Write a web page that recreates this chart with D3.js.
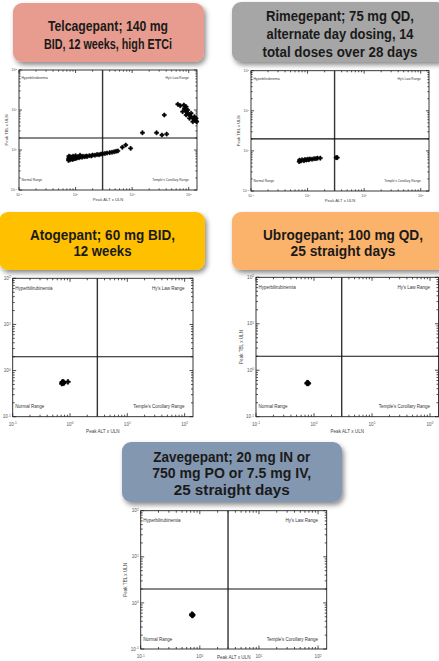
<!DOCTYPE html>
<html>
<head>
<meta charset="utf-8">
<script src="https://cdn.jsdelivr.net/npm/d3@7"></script>
<style>
  body { margin: 0; background: #fff; }
  svg { display: block; }
</style>
</head>
<body>
<div id="chart"></div>
<script>
// ---- data ----
var tickVals = [0.1, 1, 10, 100];
var tickExps = ["-1", "0", "1", "2"];
var quadrantNames = ["Hyperbilirubinemia", "Hy's Law Range", "Normal Range", "Temple's Corollary Range"];
var altCut = 3;   // x ULN
var tblCut = 2;   // x ULN

var telcaTitle = ["Telcagepant; 140 mg", "BID, 12 weeks, high ETCi"];
var rimeTitle = ["Rimegepant; 75 mg QD,", "alternate day dosing, 14", "total doses over 28 days"];
var atoTitle = ["Atogepant; 60 mg BID,", "12 weeks"];
var ubroTitle = ["Ubrogepant; 100 mg QD,", "25 straight days"];
var zaveTitle = ["Zavegepant; 20 mg IN or", "750 mg PO or 7.5 mg IV,", "25 straight days"];

var telcaALT = [0.75, 0.75, 0.77, 0.8, 0.82, 0.85, 0.88, 0.9, 0.93, 0.95, 1.0, 1.0, 1.05, 1.1, 1.15, 1.2,
  1.3, 1.35, 1.45, 1.55, 1.6, 1.75, 1.9, 2.0, 2.2, 2.4, 2.6, 2.8, 3.0, 3.3, 3.6, 4.0, 4.4, 4.8, 5.2, 5.6,
  0.76, 0.8, 0.9, 1.0, 1.2, 6.7, 7.7, 9.4,
  15.2, 27, 33.6, 40.7, 37,
  64, 71, 82, 90, 86, 78, 90, 96, 103, 90, 110, 118, 126, 135, 138, 118, 103, 126, 96, 84, 110, 135];
var telcaTBL = [0.55, 0.6, 0.64, 0.57, 0.62, 0.66, 0.58, 0.63, 0.6, 0.67, 0.61, 0.65, 0.63, 0.68, 0.64, 0.67,
  0.66, 0.7, 0.68, 0.71, 0.69, 0.72, 0.71, 0.75, 0.74, 0.77, 0.76, 0.79, 0.8, 0.82, 0.84, 0.86, 0.88, 0.9, 0.93, 0.95,
  0.7, 0.68, 0.7, 0.72, 0.74, 1.17, 1.33, 1.1,
  2.7, 2.7, 2.37, 2.5, 7.5,
  13.9, 12.8, 13.3, 12.1, 10.4, 9.1, 9.1, 8.3, 7.5, 7.5, 6.8, 6.2, 5.6, 5.3, 5.1, 5.1, 6.2, 6.8, 10, 11, 8.3, 6.2];

var rimeALT = [0.71, 0.72, 0.76, 0.8, 0.86, 0.9, 0.95, 1.0, 1.05, 1.1, 1.2, 1.3, 1.4, 1.5, 1.68, 3.2, 3.35];
var rimeTBL = [0.54, 0.59, 0.56, 0.6, 0.57, 0.61, 0.59, 0.62, 0.6, 0.63, 0.62, 0.64, 0.64, 0.66, 0.66, 0.68, 0.68];

var atoALT = [0.72, 0.74, 0.77, 0.76, 0.73, 0.78, 0.92];
var atoTBL = [0.52, 0.55, 0.53, 0.57, 0.56, 0.55, 0.57];

var ubroALT = [0.76, 0.78, 0.8, 0.77];
var ubroTBL = [0.52, 0.53, 0.52, 0.54];

var zaveALT = [0.73, 0.75, 0.74, 0.76];
var zaveTBL = [0.55, 0.53, 0.57, 0.55];

// ---- layout ----
var W = 439, H = 661;
var xMax = 140;

var panels = [
  { title: telcaTitle, alt: telcaALT, tbl: telcaTBL, color: "#E79C8F",
    box: { x: 13, y: 3, w: 191, h: 59 }, cx: 108, lineY: [26, 43.5], fs: 14.5, lw: [120, 128],
    plot: { l: 19, t: 70, r: 197, b: 190 }, small: true, yTitle: true },
  { title: rimeTitle, alt: rimeALT, tbl: rimeTBL, color: "#A6A6A6",
    box: { x: 232, y: 2, w: 214, h: 60 }, cx: 340, lineY: [15.7, 33.5, 51.5], fs: 14.5, lw: [148, 147, 155],
    plot: { l: 251, t: 70.7, r: 429, b: 191 }, small: true, yTitle: true },
  { title: atoTitle, alt: atoALT, tbl: atoTBL, color: "#FFC000",
    box: { x: -1, y: 212, w: 206, h: 58 }, cx: 102.5, lineY: [235, 251], fs: 14.5, lw: [145, 58],
    plot: { l: 12.7, t: 278.3, r: 193, b: 416.7 }, small: false, yTitle: false },
  { title: ubroTitle, alt: ubroALT, tbl: ubroTBL, color: "#FBB26B",
    box: { x: 232, y: 212, w: 214, h: 58 }, cx: 343, lineY: [235, 251], fs: 14.5, lw: [160, 105],
    plot: { l: 256, t: 277.3, r: 438.5, b: 416.7 }, small: false, yTitle: true },
  { title: zaveTitle, alt: zaveALT, tbl: zaveTBL, color: "#8497B0",
    box: { x: 122, y: 442, w: 220, h: 60 }, cx: 231.7, lineY: [456.7, 473.3, 490], fs: 14.5, lw: [157, 159, 116],
    plot: { l: 140.7, t: 510.7, r: 326.7, b: 649 }, small: false, yTitle: true }
];

var svg = d3.select("#chart").append("svg")
  .attr("width", W)
  .attr("height", H)
  .style("font-family", "'Liberation Sans', Arial, sans-serif");

var defs = svg.append("defs");
defs.append("filter")
  .attr("id", "shadow")
  .attr("x", "-20%").attr("y", "-30%")
  .attr("width", "140%").attr("height", "170%")
  .append("feDropShadow")
  .attr("dx", 2).attr("dy", 3)
  .attr("stdDeviation", 2.5)
  .attr("flood-color", "#000")
  .attr("flood-opacity", 0.45);

function expLabel(sel, exp) {
  sel.append("tspan").text("10");
  sel.append("tspan").attr("dy", "-0.45em").attr("font-size", "0.7em").text(exp);
}

panels.forEach(function (p) {
  // header box
  var hg = svg.append("g");
  hg.append("rect")
    .attr("x", p.box.x).attr("y", p.box.y)
    .attr("width", p.box.w).attr("height", p.box.h)
    .attr("rx", 9).attr("ry", 9)
    .attr("fill", p.color)
    .attr("filter", "url(#shadow)");
  p.title.forEach(function (line, i) {
    hg.append("text")
      .attr("x", p.cx)
      .attr("y", p.lineY[i])
      .attr("dy", "0.35em")
      .attr("text-anchor", "middle")
      .attr("font-weight", "bold")
      .attr("font-size", p.fs)
      .attr("textLength", p.lw[i])
      .attr("lengthAdjust", "spacingAndGlyphs")
      .attr("fill", "#1a1a1a")
      .text(line);
  });

  // scales
  var x = d3.scaleLog().domain([0.1, xMax]).range([p.plot.l, p.plot.r]);
  var y = d3.scaleLog().domain([0.1, 100]).range([p.plot.b, p.plot.t]);
  var g = svg.append("g");

  var qfs = p.small ? 3.2 : 4.5;
  var tfs = p.small ? 3.6 : 4.6;
  var afs = p.small ? 4.2 : 4.6;
  var minorLen = p.small ? 1.6 : 2;
  var majorLen = p.small ? 3 : 3.5;

  // frame
  g.append("rect")
    .attr("x", p.plot.l).attr("y", p.plot.t)
    .attr("width", p.plot.r - p.plot.l).attr("height", p.plot.b - p.plot.t)
    .attr("fill", "none")
    .attr("stroke", "#222")
    .attr("stroke-width", 0.9);

  // inward ticks on all four sides
  var xt = x.ticks();
  var yt = y.ticks();
  function isMajor(v) { return Math.abs(Math.log10(v) - Math.round(Math.log10(v))) < 1e-6; }
  g.selectAll(".xtb").data(xt).enter().append("line")
    .attr("x1", function (d) { return x(d); }).attr("x2", function (d) { return x(d); })
    .attr("y1", p.plot.b).attr("y2", function (d) { return p.plot.b - (isMajor(d) ? majorLen : minorLen); })
    .attr("stroke", "#222").attr("stroke-width", 0.8);
  g.selectAll(".xtt").data(xt).enter().append("line")
    .attr("x1", function (d) { return x(d); }).attr("x2", function (d) { return x(d); })
    .attr("y1", p.plot.t).attr("y2", function (d) { return p.plot.t + (isMajor(d) ? majorLen : minorLen); })
    .attr("stroke", "#222").attr("stroke-width", 0.8);
  g.selectAll(".ytl").data(yt).enter().append("line")
    .attr("y1", function (d) { return y(d); }).attr("y2", function (d) { return y(d); })
    .attr("x1", p.plot.l).attr("x2", function (d) { return p.plot.l + (isMajor(d) ? majorLen : minorLen); })
    .attr("stroke", "#222").attr("stroke-width", 0.8);
  g.selectAll(".ytr").data(yt).enter().append("line")
    .attr("y1", function (d) { return y(d); }).attr("y2", function (d) { return y(d); })
    .attr("x1", p.plot.r).attr("x2", function (d) { return p.plot.r - (isMajor(d) ? majorLen : minorLen); })
    .attr("stroke", "#222").attr("stroke-width", 0.8);

  // tick labels
  tickVals.forEach(function (v, i) {
    var tx = g.append("text")
      .attr("x", x(v)).attr("y", p.plot.b + (p.small ? 5 : 7.5))
      .attr("dy", "0.35em")
      .attr("text-anchor", "middle")
      .attr("font-size", tfs)
      .attr("fill", "#555");
    expLabel(tx, tickExps[i]);
    var ty = g.append("text")
      .attr("x", p.plot.l - 2).attr("y", y(v))
      .attr("dy", "0.35em")
      .attr("text-anchor", "end")
      .attr("font-size", tfs)
      .attr("fill", "#555");
    expLabel(ty, tickExps[i]);
  });

  // axis titles
  g.append("text")
    .attr("x", (p.plot.l + p.plot.r) / 2)
    .attr("y", Math.min(p.plot.b + (p.small ? 9.5 : 15), H - 4))
    .attr("dy", "0.35em")
    .attr("text-anchor", "middle")
    .attr("font-size", afs)
    .attr("fill", "#444")
    .text("Peak ALT x ULN");
  if (p.yTitle) {
    g.append("text")
      .attr("transform", "translate(" + (p.plot.l - (p.small ? 12.5 : 15)) + "," + ((p.plot.t + p.plot.b) / 2) + ") rotate(-90)")
      .attr("dy", "0.35em")
      .attr("text-anchor", "middle")
      .attr("font-size", afs)
      .attr("fill", "#444")
      .text("Peak TBL x ULN");
  }

  // threshold lines
  g.append("line")
    .attr("x1", x(altCut)).attr("x2", x(altCut))
    .attr("y1", p.plot.t).attr("y2", p.plot.b)
    .attr("stroke", "#333").attr("stroke-width", 1.4);
  g.append("line")
    .attr("x1", p.plot.l).attr("x2", p.plot.r)
    .attr("y1", y(tblCut)).attr("y2", y(tblCut))
    .attr("stroke", "#111").attr("stroke-width", 1.1);

  // quadrant labels
  var topY = p.plot.t + (p.small ? 8.3 : 10);
  var botY = p.plot.b - 10;
  var quad = [
    { t: quadrantNames[0], x: p.plot.l + 2.5, y: topY, a: "start" },
    { t: quadrantNames[1], x: x(100), y: topY, a: "end" },
    { t: quadrantNames[2], x: p.plot.l + 2.5, y: botY, a: "start" },
    { t: quadrantNames[3], x: x(100), y: botY, a: "end" }
  ];
  g.selectAll(".quad").data(quad).enter().append("text")
    .attr("x", function (d) { return d.x; })
    .attr("y", function (d) { return d.y; })
    .attr("dy", "0.35em")
    .attr("text-anchor", function (d) { return d.a; })
    .attr("font-size", qfs)
    .attr("fill", "#333")
    .text(function (d) { return d.t; });

  // points
  var sym = d3.symbol().type(d3.symbolCross).size(p.small ? 9 : 12);
  g.selectAll(".pt").data(p.alt).enter().append("path")
    .attr("d", sym)
    .attr("transform", function (d, i) { return "translate(" + x(d) + "," + y(p.tbl[i]) + ")"; })
    .attr("fill", "#000")
    .attr("stroke", "#000")
    .attr("stroke-width", 0.6);
});
</script>
</body>
</html>
